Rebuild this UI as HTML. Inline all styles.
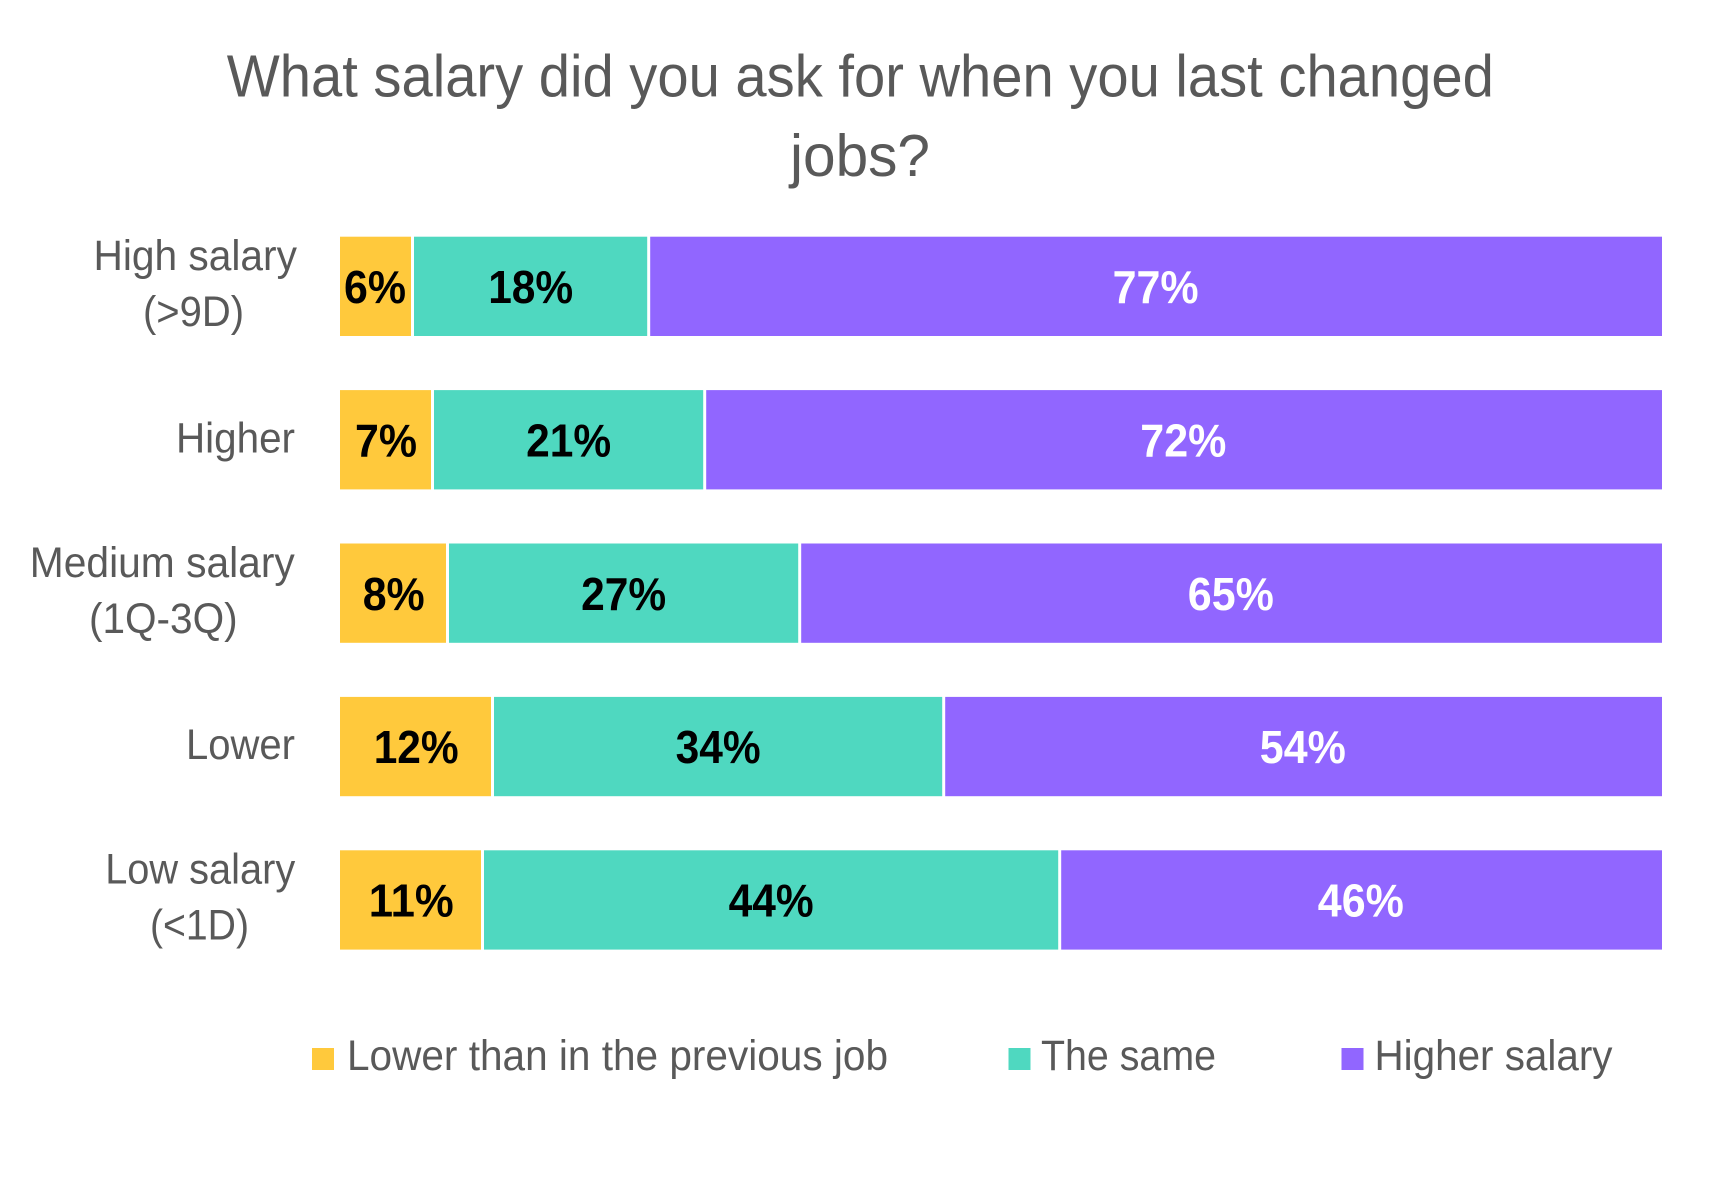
<!DOCTYPE html>
<html>
<head>
<meta charset="utf-8">
<style>
  html, body { margin: 0; padding: 0; background: #ffffff; }
  body { width: 1723px; height: 1177px; overflow: hidden; }
  svg { display: block; }
  .t { font-family: "Liberation Sans", Arial, sans-serif; }
</style>
</head>
<body>
<svg width="1723" height="1177" viewBox="0 0 1723 1177" xmlns="http://www.w3.org/2000/svg">
  <rect x="0" y="0" width="1723" height="1177" fill="#ffffff"/>

  <!-- Title -->
  <text class="t" x="860.3" y="96.7" text-anchor="middle" font-size="59" fill="#595959" textLength="1267" lengthAdjust="spacingAndGlyphs">What salary did you ask for when you last changed</text>
  <text class="t" x="860" y="176" text-anchor="middle" font-size="59" fill="#595959" textLength="140" lengthAdjust="spacingAndGlyphs">jobs?</text>

  <!-- Category labels -->
  <g class="t" font-size="43" fill="#595959">
    <text x="195.2" y="270" text-anchor="middle" textLength="203.5" lengthAdjust="spacingAndGlyphs">High salary</text>
    <text x="193.5" y="326" text-anchor="middle" textLength="101" lengthAdjust="spacingAndGlyphs">(&gt;9D)</text>

    <text x="295" y="452.3" text-anchor="end" textLength="119" lengthAdjust="spacingAndGlyphs">Higher</text>

    <text x="162.3" y="576.8" text-anchor="middle" textLength="265" lengthAdjust="spacingAndGlyphs">Medium salary</text>
    <text x="163.3" y="632.8" text-anchor="middle" textLength="148.6" lengthAdjust="spacingAndGlyphs">(1Q-3Q)</text>

    <text x="295" y="759" text-anchor="end" textLength="109" lengthAdjust="spacingAndGlyphs">Lower</text>

    <text x="200.2" y="883.5" text-anchor="middle" textLength="190" lengthAdjust="spacingAndGlyphs">Low salary</text>
    <text x="199.5" y="939.5" text-anchor="middle" textLength="99" lengthAdjust="spacingAndGlyphs">(&lt;1D)</text>
  </g>

  <!-- Bars -->
  <!-- Row 1 -->
  <rect x="340" y="236.7" width="71" height="99.3" fill="#FFC93C"/>
  <rect x="414" y="236.7" width="233.2" height="99.3" fill="#4FD8C0"/>
  <rect x="650.2" y="236.7" width="1011.8" height="99.3" fill="#9166FF"/>
  <!-- Row 2 -->
  <rect x="340" y="390.1" width="91" height="99.3" fill="#FFC93C"/>
  <rect x="434" y="390.1" width="269.2" height="99.3" fill="#4FD8C0"/>
  <rect x="706.2" y="390.1" width="955.8" height="99.3" fill="#9166FF"/>
  <!-- Row 3 -->
  <rect x="340" y="543.5" width="106" height="99.3" fill="#FFC93C"/>
  <rect x="449" y="543.5" width="349.2" height="99.3" fill="#4FD8C0"/>
  <rect x="801.2" y="543.5" width="860.8" height="99.3" fill="#9166FF"/>
  <!-- Row 4 -->
  <rect x="340" y="696.9" width="151" height="99.3" fill="#FFC93C"/>
  <rect x="494" y="696.9" width="448.2" height="99.3" fill="#4FD8C0"/>
  <rect x="945.2" y="696.9" width="716.8" height="99.3" fill="#9166FF"/>
  <!-- Row 5 -->
  <rect x="340" y="850.3" width="141" height="99.3" fill="#FFC93C"/>
  <rect x="484" y="850.3" width="574.2" height="99.3" fill="#4FD8C0"/>
  <rect x="1061.2" y="850.3" width="600.8" height="99.3" fill="#9166FF"/>

  <!-- Data labels -->
  <g class="t" font-size="46" font-weight="bold" text-anchor="middle">
    <text x="375" y="303" fill="#000" textLength="62" lengthAdjust="spacingAndGlyphs">6%</text>
    <text x="530.7" y="303" fill="#000" textLength="85" lengthAdjust="spacingAndGlyphs">18%</text>
    <text x="1155.6" y="303" fill="#fff" textLength="86" lengthAdjust="spacingAndGlyphs">77%</text>

    <text x="386" y="456.4" fill="#000" textLength="62" lengthAdjust="spacingAndGlyphs">7%</text>
    <text x="568.6" y="456.4" fill="#000" textLength="85" lengthAdjust="spacingAndGlyphs">21%</text>
    <text x="1183.3" y="456.4" fill="#fff" textLength="86" lengthAdjust="spacingAndGlyphs">72%</text>

    <text x="393.7" y="609.8" fill="#000" textLength="62" lengthAdjust="spacingAndGlyphs">8%</text>
    <text x="623.6" y="609.8" fill="#000" textLength="85" lengthAdjust="spacingAndGlyphs">27%</text>
    <text x="1230.8" y="609.8" fill="#fff" textLength="86" lengthAdjust="spacingAndGlyphs">65%</text>

    <text x="416.2" y="763.2" fill="#000" textLength="85" lengthAdjust="spacingAndGlyphs">12%</text>
    <text x="718.1" y="763.2" fill="#000" textLength="85" lengthAdjust="spacingAndGlyphs">34%</text>
    <text x="1302.8" y="763.2" fill="#fff" textLength="86" lengthAdjust="spacingAndGlyphs">54%</text>

    <text x="411.2" y="916.6" fill="#000" textLength="85" lengthAdjust="spacingAndGlyphs">11%</text>
    <text x="771.1" y="916.6" fill="#000" textLength="85" lengthAdjust="spacingAndGlyphs">44%</text>
    <text x="1360.8" y="916.6" fill="#fff" textLength="86" lengthAdjust="spacingAndGlyphs">46%</text>
  </g>

  <!-- Legend -->
  <rect x="312" y="1048" width="22" height="22" fill="#FFC93C"/>
  <rect x="1008.5" y="1048" width="22" height="22" fill="#4FD8C0"/>
  <rect x="1341.5" y="1048" width="22" height="22" fill="#9166FF"/>
  <g class="t" font-size="43" fill="#595959">
    <text x="347" y="1070" textLength="541" lengthAdjust="spacingAndGlyphs">Lower than in the previous job</text>
    <text x="1041" y="1070" textLength="175" lengthAdjust="spacingAndGlyphs">The same</text>
    <text x="1374.5" y="1070" textLength="238" lengthAdjust="spacingAndGlyphs">Higher salary</text>
  </g>
</svg>
</body>
</html>
